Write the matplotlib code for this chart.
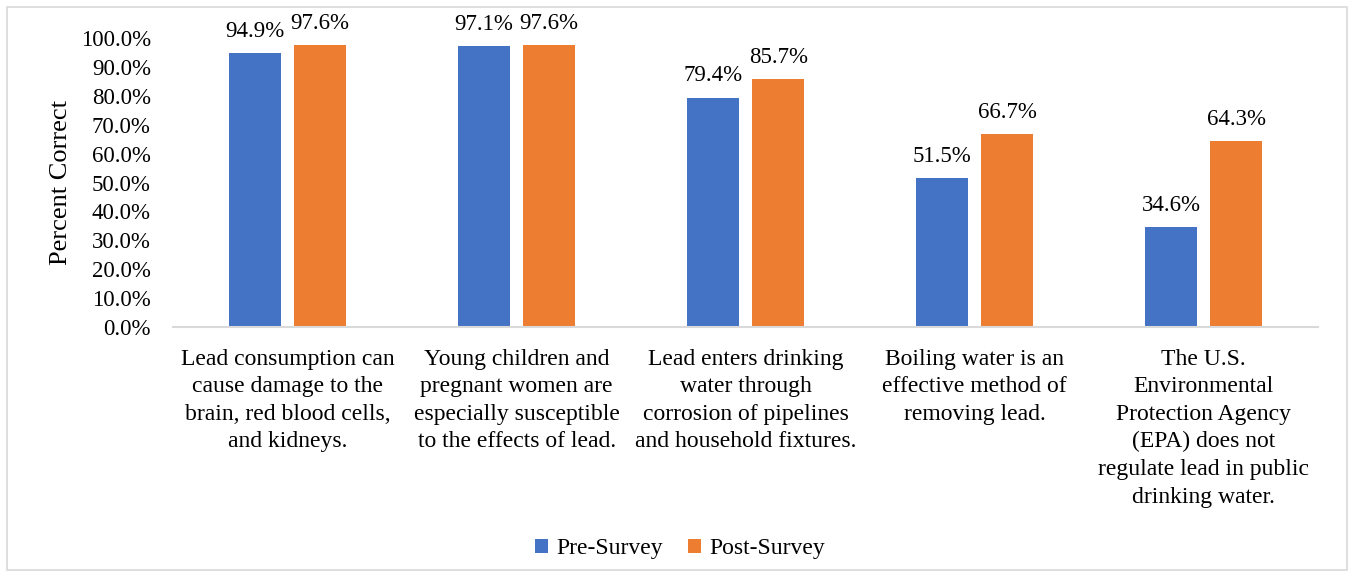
import numpy as np
import matplotlib.pyplot as plt
from matplotlib.patches import Rectangle
from matplotlib.ticker import FuncFormatter

plt.rcParams['font.family'] = ['Liberation Serif', 'DejaVu Serif']

# data
categories = [
    "Lead consumption can\ncause damage to the\nbrain, red blood cells,\nand kidneys.",
    "Young children and\npregnant women are\nespecially susceptible\nto the effects of lead.",
    "Lead enters drinking\nwater through\ncorrosion of pipelines\nand household fixtures.",
    "Boiling water is an\neffective method of\nremoving lead.",
    "The U.S.\nEnvironmental\nProtection Agency\n(EPA) does not\nregulate lead in public\ndrinking water.",
]
pre_survey = [94.9, 97.1, 79.4, 51.5, 34.6]
post_survey = [97.6, 97.6, 85.7, 66.7, 64.3]
series_names = ["Pre-Survey", "Post-Survey"]

blue = '#4472C4'
orange = '#ED7D31'

fig = plt.figure(figsize=(13.52, 5.77), dpi=100)
ax = fig.add_axes([0.128, 0.4333, 0.847, 0.5007])

x = np.arange(len(categories))
w = 0.225
off = 0.142
b1 = ax.bar(x - off, pre_survey, w, color=blue, label=series_names[0])
b2 = ax.bar(x + off, post_survey, w, color=orange, label=series_names[1])

# data labels
for bars, vals in [(b1, pre_survey), (b2, post_survey)]:
    for bar, v in zip(bars, vals):
        ax.annotate(f"{v:.1f}%", (bar.get_x() + bar.get_width() / 2, v),
                    xytext=(0, 8), textcoords='offset points',
                    ha='center', va='bottom', fontsize=16.5, annotation_clip=False)

ax.set_xlim(-0.5, len(categories) - 0.5)
ax.set_ylim(0, 100)
ax.set_yticks(np.arange(0, 101, 10))
ax.yaxis.set_major_formatter(FuncFormatter(lambda v, p: f"{v:.1f}%"))
ax.set_xticks(x)
ax.set_xticklabels(categories, fontsize=17, linespacing=1.41)
ax.tick_params(axis='x', length=0, pad=15.5)
ax.tick_params(axis='y', length=0, pad=16, labelsize=16.5)
ax.set_ylabel("Percent Correct", fontsize=19, labelpad=6)

for s in ['top', 'right', 'left']:
    ax.spines[s].set_visible(False)
ax.spines['bottom'].set_color('#d9d9d9')
ax.spines['bottom'].set_linewidth(1.5)

# legend
fig.legend(loc='center', bbox_to_anchor=(0.503, 0.049), ncol=2, frameon=False,
           fontsize=17, handlelength=0.55, handleheight=0.55, columnspacing=1.1,
           handletextpad=0.35)

# chart border
fig.patches.append(Rectangle((7 / 1352, 7 / 577), 1340 / 1352, 563 / 577,
                             transform=fig.transFigure, fill=False,
                             edgecolor='#d9d9d9', linewidth=1.2))

fig.savefig('out.png', dpi=100)
